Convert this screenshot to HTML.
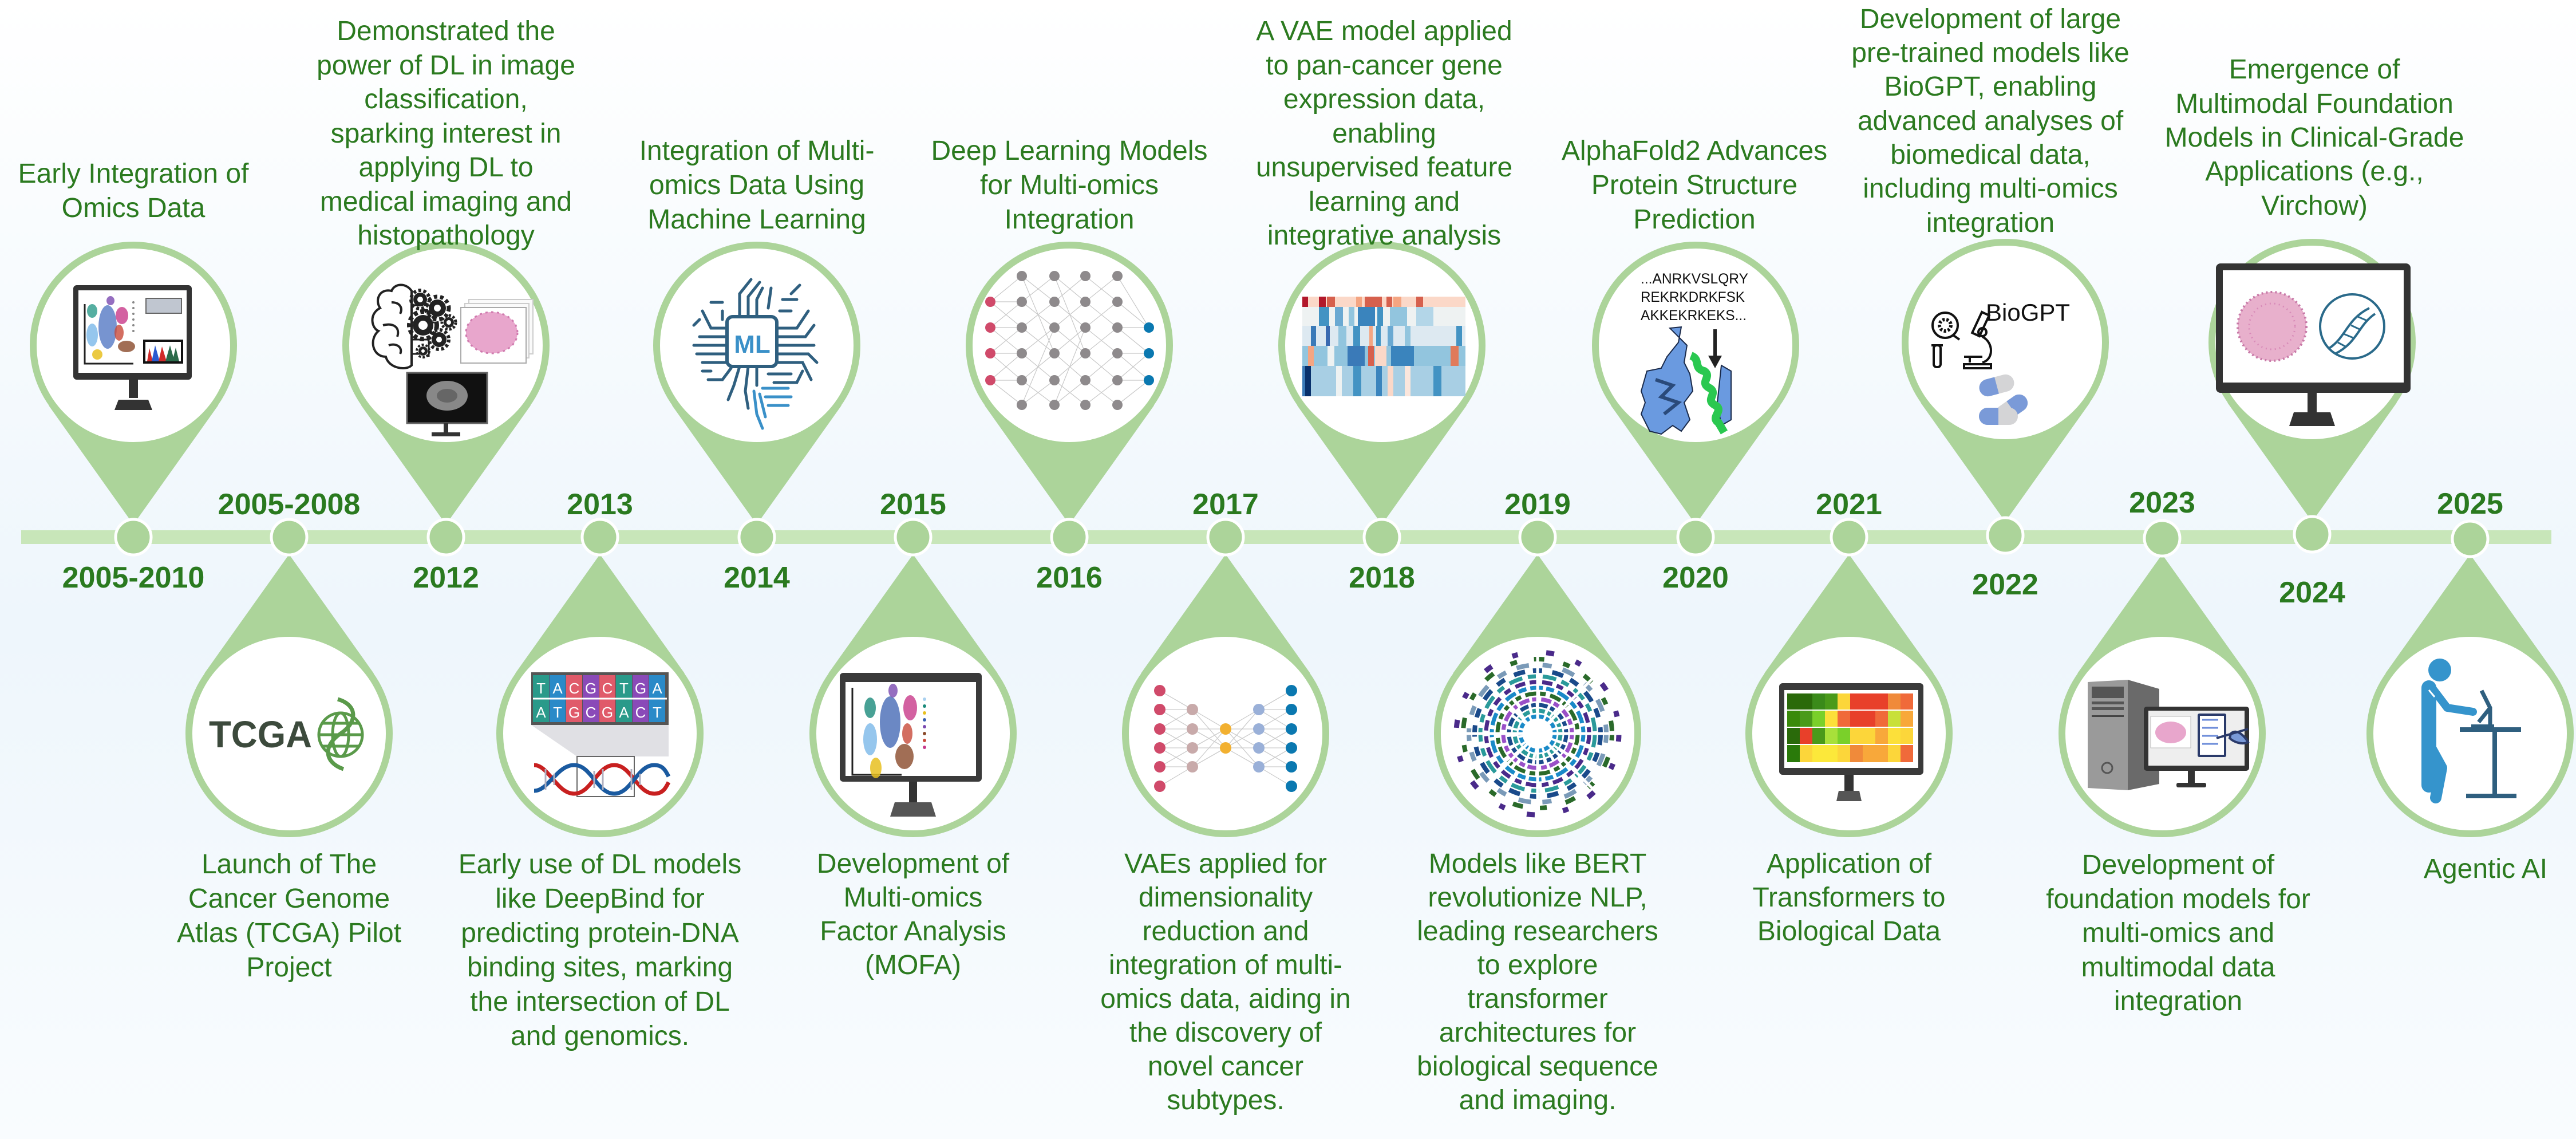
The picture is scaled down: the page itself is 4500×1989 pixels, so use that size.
<!DOCTYPE html>
<html><head><meta charset="utf-8">
<style>
html,body{margin:0;padding:0;}
body{width:4500px;height:1989px;overflow:hidden;}
svg{display:block;font-family:"Liberation Sans",Arial,sans-serif;}
.d{font-size:48px;fill:#2b7a1f;text-anchor:middle;}
.y{font-size:52px;font-weight:bold;fill:#2a7a1f;text-anchor:middle;}
</style></head><body>
<svg width="4500" height="1989" viewBox="0 0 4500 1989" xmlns="http://www.w3.org/2000/svg">
<defs>
<linearGradient id="bg" x1="0" y1="0" x2="0" y2="1">
<stop offset="0" stop-color="#ffffff"/><stop offset="0.55" stop-color="#eef6fc"/><stop offset="1" stop-color="#f9fcfe"/>
</linearGradient>
<g id="pu"><polygon points="0,313 -148,105 148,105" fill="#acd49a"/><circle r="175" fill="#fff" stroke="#acd49a" stroke-width="12"/></g>
<g id="pd"><polygon points="0,-313 -148,-105 148,-105" fill="#acd49a"/><circle r="175" fill="#fff" stroke="#acd49a" stroke-width="12"/></g>
</defs>
<rect width="4500" height="1989" fill="url(#bg)"/>

<rect x="37" y="926" width="4420" height="24" fill="#c8e6b9"/>

<use href="#pu" x="233" y="603"/>
<use href="#pu" x="779" y="603"/>
<use href="#pu" x="1322" y="603"/>
<use href="#pu" x="1868" y="603"/>
<use href="#pu" x="2414" y="603"/>
<use href="#pu" x="2962" y="603"/>
<use href="#pu" x="3503" y="598"/>
<use href="#pu" x="4039" y="598"/>
<use href="#pd" x="505" y="1281"/>
<use href="#pd" x="1048" y="1281"/>
<use href="#pd" x="1595" y="1281"/>
<use href="#pd" x="2141" y="1281"/>
<use href="#pd" x="2686" y="1281"/>
<use href="#pd" x="3230" y="1281"/>
<use href="#pd" x="3777" y="1281"/>
<use href="#pd" x="4315" y="1281"/>

<g fill="#acd49a" stroke="#ffffff" stroke-width="5">
<circle cx="233" cy="938" r="31"/><circle cx="505" cy="938" r="31"/><circle cx="779" cy="938" r="31"/><circle cx="1048" cy="938" r="31"/>
<circle cx="1322" cy="938" r="31"/><circle cx="1595" cy="938" r="31"/><circle cx="1868" cy="938" r="31"/><circle cx="2141" cy="938" r="31"/>
<circle cx="2414" cy="938" r="31"/><circle cx="2686" cy="938" r="31"/><circle cx="2962" cy="938" r="31"/><circle cx="3230" cy="938" r="31"/>
<circle cx="3503" cy="935" r="31"/><circle cx="3777" cy="940" r="31"/><circle cx="4039" cy="933" r="31"/><circle cx="4315" cy="941" r="31"/>
</g>

<text class="y" x="233" y="1026">2005-2010</text>
<text class="y" x="505" y="898">2005-2008</text>
<text class="y" x="779" y="1026">2012</text>
<text class="y" x="1048" y="898">2013</text>
<text class="y" x="1322" y="1026">2014</text>
<text class="y" x="1595" y="898">2015</text>
<text class="y" x="1868" y="1026">2016</text>
<text class="y" x="2141" y="898">2017</text>
<text class="y" x="2414" y="1026">2018</text>
<text class="y" x="2686" y="898">2019</text>
<text class="y" x="2962" y="1026">2020</text>
<text class="y" x="3230" y="898">2021</text>
<text class="y" x="3503" y="1038">2022</text>
<text class="y" x="3777" y="895">2023</text>
<text class="y" x="4039" y="1052">2024</text>
<text class="y" x="4315" y="897">2025</text>

<text class="d"><tspan x="233" y="319">Early Integration of</tspan><tspan x="233" y="379">Omics Data</tspan></text>
<text class="d"><tspan x="779" y="70">Demonstrated the</tspan><tspan x="779" y="130">power of DL in image</tspan><tspan x="779" y="189">classification,</tspan><tspan x="779" y="249">sparking interest in</tspan><tspan x="779" y="308">applying DL to</tspan><tspan x="779" y="368">medical imaging and</tspan><tspan x="779" y="427">histopathology</tspan></text>
<text class="d"><tspan x="1322" y="279">Integration of Multi-</tspan><tspan x="1322" y="339">omics Data Using</tspan><tspan x="1322" y="399">Machine Learning</tspan></text>
<text class="d"><tspan x="1868" y="279">Deep Learning Models</tspan><tspan x="1868" y="339">for Multi-omics</tspan><tspan x="1868" y="399">Integration</tspan></text>
<text class="d"><tspan x="2418" y="70">A VAE model applied</tspan><tspan x="2418" y="130">to pan-cancer gene</tspan><tspan x="2418" y="189">expression data,</tspan><tspan x="2418" y="249">enabling</tspan><tspan x="2418" y="308">unsupervised feature</tspan><tspan x="2418" y="368">learning and</tspan><tspan x="2418" y="427">integrative analysis</tspan></text>
<text class="d"><tspan x="2960" y="279">AlphaFold2 Advances</tspan><tspan x="2960" y="339">Protein Structure</tspan><tspan x="2960" y="399">Prediction</tspan></text>
<text class="d"><tspan x="3477" y="49">Development of large</tspan><tspan x="3477" y="108">pre-trained models like</tspan><tspan x="3477" y="167">BioGPT, enabling</tspan><tspan x="3477" y="227">advanced analyses of</tspan><tspan x="3477" y="286">biomedical data,</tspan><tspan x="3477" y="345">including multi-omics</tspan><tspan x="3477" y="405">integration</tspan></text>
<text class="d"><tspan x="4043" y="137">Emergence of</tspan><tspan x="4043" y="197">Multimodal Foundation</tspan><tspan x="4043" y="256">Models in Clinical-Grade</tspan><tspan x="4043" y="315">Applications (e.g.,</tspan><tspan x="4043" y="375">Virchow)</tspan></text>

<text class="d"><tspan x="505" y="1525">Launch of The</tspan><tspan x="505" y="1585">Cancer Genome</tspan><tspan x="505" y="1645">Atlas (TCGA) Pilot</tspan><tspan x="505" y="1705">Project</tspan></text>
<text class="d"><tspan x="1048" y="1525">Early use of DL models</tspan><tspan x="1048" y="1585">like DeepBind for</tspan><tspan x="1048" y="1645">predicting protein-DNA</tspan><tspan x="1048" y="1705">binding sites, marking</tspan><tspan x="1048" y="1765">the intersection of DL</tspan><tspan x="1048" y="1825">and genomics.</tspan></text>
<text class="d"><tspan x="1595" y="1524">Development of</tspan><tspan x="1595" y="1583">Multi-omics</tspan><tspan x="1595" y="1642">Factor Analysis</tspan><tspan x="1595" y="1701">(MOFA)</tspan></text>
<text class="d"><tspan x="2141" y="1524">VAEs applied for</tspan><tspan x="2141" y="1583">dimensionality</tspan><tspan x="2141" y="1642">reduction and</tspan><tspan x="2141" y="1701">integration of multi-</tspan><tspan x="2141" y="1760">omics data, aiding in</tspan><tspan x="2141" y="1819">the discovery of</tspan><tspan x="2141" y="1878">novel cancer</tspan><tspan x="2141" y="1937">subtypes.</tspan></text>
<text class="d"><tspan x="2686" y="1524">Models like BERT</tspan><tspan x="2686" y="1583">revolutionize NLP,</tspan><tspan x="2686" y="1642">leading researchers</tspan><tspan x="2686" y="1701">to explore</tspan><tspan x="2686" y="1760">transformer</tspan><tspan x="2686" y="1819">architectures for</tspan><tspan x="2686" y="1878">biological sequence</tspan><tspan x="2686" y="1937">and imaging.</tspan></text>
<text class="d"><tspan x="3230" y="1524">Application of</tspan><tspan x="3230" y="1583">Transformers to</tspan><tspan x="3230" y="1642">Biological Data</tspan></text>
<text class="d"><tspan x="3805" y="1526">Development of</tspan><tspan x="3805" y="1586">foundation models for</tspan><tspan x="3805" y="1645">multi-omics and</tspan><tspan x="3805" y="1705">multimodal data</tspan><tspan x="3805" y="1764">integration</tspan></text>
<text class="d"><tspan x="4342" y="1533">Agentic AI</tspan></text>

<g transform="translate(233,603)">
<rect x="-105" y="-105" width="207" height="165" rx="6" fill="#333"/>
<rect x="-96" y="-96" width="189" height="144" fill="#fff"/>
<polyline points="-85,-72 -85,32 0,32" fill="none" stroke="#222" stroke-width="3"/>
<ellipse cx="-72" cy="-60" rx="9" ry="12" fill="#2a9a8a" opacity=".8"/>
<ellipse cx="-45" cy="-32" rx="16" ry="38" fill="#4a70c0" opacity=".75"/>
<ellipse cx="-72" cy="-18" rx="10" ry="20" fill="#7ab8e8" opacity=".8"/>
<ellipse cx="-20" cy="-52" rx="11" ry="15" fill="#c83a8a" opacity=".8"/>
<ellipse cx="-25" cy="-22" rx="8" ry="14" fill="#c84a3a" opacity=".8"/>
<ellipse cx="-12" cy="2" rx="15" ry="10" fill="#8a4a2a" opacity=".8"/>
<ellipse cx="-63" cy="16" rx="9" ry="9" fill="#e8c020" opacity=".85"/>
<ellipse cx="-40" cy="-78" rx="7" ry="8" fill="#7a4ab0" opacity=".8"/>
<g fill="#888"><circle cx="0" cy="-75" r="2"/><circle cx="0" cy="-65" r="2"/><circle cx="0" cy="-55" r="2"/><circle cx="0" cy="-45" r="2"/><circle cx="0" cy="-35" r="2"/><circle cx="0" cy="-25" r="2"/></g>
<rect x="22" y="-82" width="62" height="26" fill="#c0c6d0" stroke="#666" stroke-width="2"/>
<rect x="17" y="-10" width="70" height="42" fill="#111"/>
<rect x="21" y="-6" width="62" height="34" fill="#fff"/>
<path d="M24,28 L28,5 L34,28 Z" fill="#d02a2a"/><path d="M32,28 L38,0 L46,28 Z" fill="#2a5ad0"/><path d="M44,28 L50,2 L58,28 Z" fill="#d02a2a"/><path d="M56,28 L64,0 L72,28 Z" fill="#2a6a4a"/><path d="M68,28 L74,4 L80,28 Z" fill="#2a6a4a"/>
<rect x="-8" y="60" width="16" height="32" fill="#333"/>
<polygon points="-33,113 33,113 26,95 -26,95" fill="#333"/>
</g>

<g transform="translate(779,603)">
<path d="M-95,-95 C-115,-100 -125,-80 -115,-65 C-135,-55 -130,-30 -118,-25 C-135,-10 -128,20 -105,20 C-100,40 -70,45 -60,35 L-60,-95 C-70,-110 -90,-108 -95,-95 Z" fill="none" stroke="#222" stroke-width="4"/>
<path d="M-95,-75 C-80,-75 -75,-65 -80,-55 M-110,-35 C-90,-40 -80,-30 -85,-15 M-100,0 C-85,-5 -75,5 -80,15" fill="none" stroke="#222" stroke-width="4"/>
<g stroke="#222" stroke-width="3" fill="none"><path d="M-60,-70 L-40,-70 M-60,-40 L-20,-40 M-60,-10 L-30,-10 L-30,20 M-60,15 L-45,15"/></g>
<g fill="#222">
<circle cx="-45" cy="-80" r="12"/><circle cx="-45" cy="-80" r="16" fill="none" stroke="#222" stroke-width="6" stroke-dasharray="5 4"/><circle cx="-45" cy="-80" r="5" fill="#fff"/>
<circle cx="-15" cy="-65" r="15"/><circle cx="-15" cy="-65" r="20" fill="none" stroke="#222" stroke-width="7" stroke-dasharray="6 5"/><circle cx="-15" cy="-65" r="6" fill="#fff"/>
<circle cx="-40" cy="-35" r="18"/><circle cx="-40" cy="-35" r="24" fill="none" stroke="#222" stroke-width="8" stroke-dasharray="7 5"/><circle cx="-40" cy="-35" r="8" fill="#fff"/>
<circle cx="5" cy="-40" r="9"/><circle cx="5" cy="-40" r="12" fill="none" stroke="#222" stroke-width="5" stroke-dasharray="4 3"/><circle cx="5" cy="-40" r="4" fill="#fff"/>
<circle cx="-12" cy="-10" r="13"/><circle cx="-12" cy="-10" r="17" fill="none" stroke="#222" stroke-width="6" stroke-dasharray="5 4"/><circle cx="-12" cy="-10" r="5" fill="#fff"/>
<circle cx="-40" cy="10" r="8"/><circle cx="-40" cy="10" r="11" fill="none" stroke="#222" stroke-width="4" stroke-dasharray="4 3"/><circle cx="-40" cy="10" r="3" fill="#fff"/>
</g>
<rect x="40" y="-80" width="112" height="95" fill="#fafafa" stroke="#ccc" stroke-width="2"/>
<rect x="33" y="-73" width="112" height="95" fill="#fafafa" stroke="#ccc" stroke-width="2"/>
<rect x="26" y="-66" width="114" height="97" fill="#fff" stroke="#aaa" stroke-width="2"/>
<ellipse cx="80" cy="-22" rx="45" ry="36" fill="#e8a6cc"/>
<ellipse cx="80" cy="-22" rx="45" ry="36" fill="none" stroke="#d07aae" stroke-width="3" stroke-dasharray="4 6"/>
<rect x="-68" y="48" width="140" height="88" fill="#111" stroke="#666" stroke-width="3"/>
<ellipse cx="2" cy="88" rx="36" ry="26" fill="#888"/>
<ellipse cx="2" cy="88" rx="18" ry="12" fill="#666"/>
<rect x="-4" y="136" width="8" height="18" fill="#333"/>
<rect x="-25" y="152" width="50" height="7" fill="#333"/>
</g>

<g transform="translate(1322,603)">
<g stroke="#2f5f7f" stroke-width="5" fill="none" stroke-linecap="round">
<path d="M-30,-50 L-30,-90 L-10,-115 M-15,-50 L-15,-85 L5,-110 M0,-50 L0,-80 L10,-100"/>
<path d="M-52,-30 L-80,-30 L-95,-60 M-52,-15 L-100,-15 M-52,0 L-110,0 M-52,15 L-105,15 M-52,30 L-95,30"/>
<path d="M-60,-60 L-60,-45 M-80,-75 L-60,-75 M-100,-45 L-110,-35 M-95,45 L-80,45 M-85,60 L-60,60 L-45,40"/>
<path d="M35,-30 L70,-30 L90,-60 M35,-15 L85,-15 L100,-35 M35,0 L100,0 M35,15 L90,15 L105,30 M35,30 L80,30 L95,60"/>
<path d="M40,-60 L60,-60 M45,-80 L70,-80 M20,-65 L25,-100 M60,-90 L75,-105"/>
<path d="M-30,37 L-40,70 L-50,95 M-15,37 L-20,80 L-15,110 M0,37 L0,70"/>
<path d="M20,50 L60,50 M30,65 L70,65 L80,45"/>
</g>
<g stroke="#3a90c8" stroke-width="5" fill="none" stroke-linecap="round">
<path d="M10,75 L55,75 M15,90 L60,90 M20,105 L55,105 M-5,80 L0,120 L10,145 M5,85 L15,125"/>
</g>
<rect x="-52" y="-50" width="87" height="87" rx="10" fill="#fff" stroke="#2f5f7f" stroke-width="6"/>
<text x="-8" y="13" font-size="44" font-weight="bold" fill="#3a90c8" text-anchor="middle">ML</text>
</g>

<g transform="translate(1868,603)">
<g stroke="#c8c8c8" stroke-width="1.2">
<path d="M-138,-76 L-83,-121 M-138,-76 L-83,-31 M-138,-31 L-83,-76 M-138,-31 L-83,14 M-138,14 L-83,-31 M-138,14 L-83,61 M-138,61 L-83,14 M-138,61 L-83,104 M-138,-76 L-83,-76 M-138,-31 L-83,-31 M-138,14 L-83,14 M-138,61 L-83,61"/>
<path d="M-83,-121 L-26,-76 M-83,-76 L-26,-121 M-83,-76 L-26,-31 M-83,-31 L-26,-76 M-83,-31 L-26,14 M-83,14 L-26,-31 M-83,14 L-26,61 M-83,61 L-26,14 M-83,61 L-26,104 M-83,104 L-26,61 M-83,-121 L-26,14 M-83,104 L-26,-31"/>
<path d="M-26,-121 L28,-76 M-26,-76 L28,-121 M-26,-76 L28,-31 M-26,-31 L28,-76 M-26,-31 L28,14 M-26,14 L28,-31 M-26,14 L28,61 M-26,61 L28,14 M-26,61 L28,104 M-26,104 L28,61 M-26,-121 L28,14 M-26,104 L28,-31"/>
<path d="M28,-121 L84,-76 M28,-76 L84,-121 M28,-76 L84,-31 M28,-31 L84,-76 M28,-31 L84,14 M28,14 L84,-31 M28,14 L84,61 M28,61 L84,14 M28,61 L84,104 M28,104 L84,61"/>
<path d="M84,-76 L139,-31 M84,-31 L139,14 M84,14 L139,61 M84,61 L139,14 M84,-121 L139,-31 M84,104 L139,61 M84,-31 L139,-31 M84,14 L139,14 M84,61 L139,61"/>
</g>
<g fill="#8e8a8c">
<circle cx="-83" cy="-121" r="9"/><circle cx="-26" cy="-121" r="9"/><circle cx="28" cy="-121" r="9"/><circle cx="84" cy="-121" r="9"/>
<circle cx="-83" cy="-76" r="9"/><circle cx="-26" cy="-76" r="9"/><circle cx="28" cy="-76" r="9"/><circle cx="84" cy="-76" r="9"/>
<circle cx="-83" cy="-31" r="9"/><circle cx="-26" cy="-31" r="9"/><circle cx="28" cy="-31" r="9"/><circle cx="84" cy="-31" r="9"/>
<circle cx="-83" cy="14" r="9"/><circle cx="-26" cy="14" r="9"/><circle cx="28" cy="14" r="9"/><circle cx="84" cy="14" r="9"/>
<circle cx="-83" cy="61" r="9"/><circle cx="-26" cy="61" r="9"/><circle cx="28" cy="61" r="9"/><circle cx="84" cy="61" r="9"/>
<circle cx="-83" cy="104" r="9"/><circle cx="-26" cy="104" r="9"/><circle cx="28" cy="104" r="9"/><circle cx="84" cy="104" r="9"/>
</g>
<g fill="#d04a6a"><circle cx="-138" cy="-76" r="9"/><circle cx="-138" cy="-31" r="9"/><circle cx="-138" cy="14" r="9"/><circle cx="-138" cy="61" r="9"/></g>
<g fill="#0a78b0"><circle cx="139" cy="-31" r="9"/><circle cx="139" cy="14" r="9"/><circle cx="139" cy="61" r="9"/></g>
</g>

<g transform="translate(2414,603)">
<rect x="-139" y="-85" width="285" height="18" fill="#fbd8c8"/>
<rect x="-139" y="-85" width="10" height="18" fill="#b2182b"/><rect x="-110" y="-85" width="12" height="18" fill="#b2182b"/><rect x="-96" y="-85" width="14" height="18" fill="#d6604d"/><rect x="-45" y="-85" width="10" height="18" fill="#f4a582"/><rect x="-30" y="-85" width="30" height="18" fill="#d6604d"/><rect x="8" y="-85" width="10" height="18" fill="#d6604d"/><rect x="20" y="-85" width="14" height="18" fill="#f4a582"/><rect x="60" y="-85" width="12" height="18" fill="#d6604d"/>
<rect x="-139" y="-67" width="285" height="33" fill="#eef2f2"/>
<rect x="-110" y="-67" width="18" height="33" fill="#4393c3"/><rect x="-82" y="-67" width="14" height="33" fill="#6aa9d2"/><rect x="-58" y="-67" width="10" height="33" fill="#92c5de"/><rect x="-42" y="-67" width="30" height="33" fill="#3a84bd"/><rect x="-8" y="-67" width="10" height="33" fill="#4393c3"/><rect x="14" y="-67" width="30" height="33" fill="#92c5de"/><rect x="60" y="-67" width="30" height="33" fill="#b3d6e8"/>
<rect x="-139" y="-34" width="285" height="35" fill="#dde9f1"/>
<rect x="-124" y="-34" width="9" height="35" fill="#3a7ab8"/><rect x="-98" y="-34" width="7" height="35" fill="#3a6ab0"/><rect x="-76" y="-34" width="14" height="35" fill="#92c5de"/><rect x="-50" y="-34" width="12" height="35" fill="#4393c3"/><rect x="-22" y="-34" width="6" height="35" fill="#f4a582"/><rect x="-10" y="-34" width="8" height="35" fill="#4393c3"/><rect x="10" y="-34" width="10" height="35" fill="#6aa9d2"/><rect x="40" y="-34" width="10" height="35" fill="#92c5de"/><rect x="130" y="-34" width="10" height="35" fill="#4393c3"/>
<rect x="-139" y="1" width="285" height="35" fill="#92c5de"/>
<rect x="-129" y="1" width="10" height="35" fill="#f4a582"/><rect x="-95" y="1" width="12" height="35" fill="#eef2f2"/><rect x="-60" y="1" width="30" height="35" fill="#3a7ab8"/><rect x="-24" y="1" width="10" height="35" fill="#d6604d"/><rect x="-12" y="1" width="20" height="35" fill="#fbd8c8"/><rect x="16" y="1" width="40" height="35" fill="#3a84bd"/><rect x="120" y="1" width="14" height="35" fill="#e07a5a"/>
<rect x="-139" y="36" width="285" height="53" fill="#a8cfe4"/>
<rect x="-134" y="36" width="10" height="53" fill="#08306b"/><rect x="-139" y="36" width="5" height="53" fill="#3a7ab8"/><rect x="-80" y="36" width="10" height="53" fill="#eef2f2"/><rect x="-50" y="36" width="14" height="53" fill="#4393c3"/><rect x="-10" y="36" width="10" height="53" fill="#3a84bd"/><rect x="10" y="36" width="10" height="53" fill="#fbd8c8"/><rect x="40" y="36" width="10" height="53" fill="#fbe6dc"/><rect x="90" y="36" width="14" height="53" fill="#4393c3"/>
</g>

<g transform="translate(2962,603)">
<g font-size="25" fill="#111">
<text x="-96" y="-108" textLength="188" lengthAdjust="spacingAndGlyphs">...ANRKVSLQRY</text>
<text x="-96" y="-76" textLength="182" lengthAdjust="spacingAndGlyphs">REKRKDRKFSK</text>
<text x="-96" y="-44" textLength="185" lengthAdjust="spacingAndGlyphs">AKKEKRKEKS...</text>
</g>
<path d="M-45,-30 L-25,-32 L-30,-5 L-50,20 L-60,40 L-85,45 L-95,80 L-88,100 L-95,120 L-80,150 L-60,155 L-40,140 L-25,150 L-10,130 L-20,100 L-5,80 L-10,50 L-20,30 L-15,0 Z" fill="#6a9ae0" stroke="#1a2a4a" stroke-width="2"/>
<path d="M-70,60 L-40,70 L-60,90 L-30,100 L-55,120" fill="none" stroke="#2a4a7a" stroke-width="6"/>
<path d="M45,35 L62,45 L62,130 L45,140 L38,100 Z" fill="#6a9ae0" stroke="#1a2a4a" stroke-width="2"/>
<path d="M-8,18 C10,25 -5,40 15,45 C30,55 5,65 25,75 C40,85 15,95 35,105 C50,115 25,125 40,135 L50,152" fill="none" stroke="#2ac850" stroke-width="14"/>
<rect x="31" y="-28" width="6" height="50" fill="#222"/>
<polygon points="22,18 46,18 34,40" fill="#222"/>
</g>

<g transform="translate(3503,598)">
<g fill="none" stroke="#111" stroke-width="4">
<circle cx="-105" cy="-30" r="22"/>
<circle cx="-105" cy="-30" r="10" stroke-dasharray="4 3" stroke-width="6"/>
<path d="M-90,-12 L-80,-5"/>
<rect x="-50" y="-52" width="14" height="40" transform="rotate(25 -43 -32)"/>
<circle cx="-40" cy="-18" r="7"/>
<path d="M-40,-10 C-20,0 -20,30 -40,35 M-72,25 L-40,25 M-62,25 L-62,35 M-72,38 L-25,38 L-25,45 L-72,45 Z"/>
<rect x="-125" y="5" width="12" height="38" rx="5"/>
<path d="M-129,5 L-109,5"/>
</g>
<text x="-34" y="-38" font-size="42" fill="#111">BioGPT</text>
<g>
<rect x="-46" y="60" width="62" height="30" rx="15" fill="#d4d4d6" transform="rotate(-15 -15 75)"/>
<path d="M-31,60 L-15,60 L-15,90 L-31,90 A15,15 0 0 1 -31,60 Z" fill="#7a9ad8" transform="rotate(-15 -15 75)"/>
<rect x="-20" y="100" width="62" height="30" rx="15" fill="#d4d4d6" transform="rotate(-35 11 115)"/>
<path d="M27,100 L11,100 L11,130 L27,130 A15,15 0 0 0 27,100 Z" fill="#7a9ad8" transform="rotate(-35 11 115)"/>
<rect x="-46" y="114" width="68" height="30" rx="15" fill="#d4d4d6"/>
<path d="M-31,114 L-12,114 L-12,144 L-31,144 A15,15 0 0 1 -31,114 Z" fill="#7a9ad8"/>
</g>
</g>

<g transform="translate(4039,598)">
<rect x="-168" y="-138" width="340" height="226" rx="8" fill="#333"/>
<rect x="-156" y="-126" width="316" height="196" fill="#fff"/>
<circle cx="-70" cy="-28" r="60" fill="#e8b0cc"/>
<circle cx="-70" cy="-28" r="60" fill="none" stroke="#c87aa8" stroke-width="4" stroke-dasharray="3 5"/>
<circle cx="-70" cy="-28" r="40" fill="none" stroke="#d88ab8" stroke-width="3" stroke-dasharray="2 6"/>
<circle cx="70" cy="-28" r="56" fill="none" stroke="#2a6a8a" stroke-width="4"/>
<path d="M30,10 C60,-10 60,-40 100,-60 M40,20 C80,0 80,-30 110,-50" fill="none" stroke="#2a6a8a" stroke-width="4"/>
<path d="M45,0 L60,8 M55,-15 L72,-8 M68,-30 L85,-22 M80,-45 L96,-38" stroke="#2a6a8a" stroke-width="3"/>
<rect x="-8" y="88" width="16" height="34" fill="#333"/>
<polygon points="-40,146 40,146 32,122 -32,122" fill="#333"/>
</g>

<g transform="translate(505,1281)">
<text x="-140" y="24" font-size="66" font-weight="bold" fill="#3c4a3c" textLength="180" lengthAdjust="spacingAndGlyphs">TCGA</text>
<g fill="none" stroke="#5a9a4a" stroke-width="5">
<circle cx="90" cy="2" r="38"/>
<ellipse cx="90" cy="2" rx="14" ry="38"/>
<path d="M52,2 L128,2 M57,-18 L123,-18 M57,22 L123,22"/>
<path d="M85,-60 C120,-50 120,-20 90,0 C60,20 60,50 95,62" stroke-width="7"/>
</g>
</g>

<g transform="translate(1048,1281)">
<rect x="-120" y="-107" width="240" height="92" fill="#555"/>
<g font-size="26" fill="#fff" text-anchor="middle">
<rect x="-117" y="-102" width="28" height="82" fill="#2a9a8a"/><rect x="-88" y="-102" width="28" height="82" fill="#2a8ac8"/><rect x="-59" y="-102" width="28" height="82" fill="#e05a6a"/><rect x="-30" y="-102" width="28" height="82" fill="#8a4ab8"/><rect x="-1" y="-102" width="28" height="82" fill="#e05a6a"/><rect x="28" y="-102" width="28" height="82" fill="#2a9a8a"/><rect x="57" y="-102" width="28" height="82" fill="#8a4ab8"/><rect x="86" y="-102" width="28" height="82" fill="#2a8ac8"/>
<path d="M-117,-61 L117,-61" stroke="#fff" stroke-width="3"/>
<text x="-103" y="-70">T</text><text x="-74" y="-70">A</text><text x="-45" y="-70">C</text><text x="-16" y="-70">G</text><text x="13" y="-70">C</text><text x="42" y="-70">T</text><text x="71" y="-70">G</text><text x="100" y="-70">A</text>
<text x="-103" y="-28">A</text><text x="-74" y="-28">T</text><text x="-45" y="-28">G</text><text x="-16" y="-28">C</text><text x="13" y="-28">G</text><text x="42" y="-28">A</text><text x="71" y="-28">C</text><text x="100" y="-28">T</text>
</g>
<polygon points="-120,-15 120,-15 120,40 -40,40" fill="#e0e0e4"/>
<rect x="-40" y="40" width="100" height="70" fill="none" stroke="#666" stroke-width="2"/>
<g fill="none" stroke-width="7">
<path d="M-115,55 C-90,55 -75,105 -45,105 C-15,105 -5,55 25,55 C55,55 65,105 95,105 C110,105 115,95 120,85" stroke="#c82020"/>
<path d="M-115,100 C-90,100 -75,55 -45,55 C-15,55 -5,105 25,105 C55,105 65,55 95,55 C110,55 115,65 120,75" stroke="#1a5aa0"/>
</g>
<g stroke="#b0b0c0" stroke-width="3"><path d="M-95,62 L-95,98 M-80,70 L-80,90 M-10,65 L-10,95 M5,62 L5,98 M55,62 L55,98 M70,70 L70,90"/></g>
</g>

<g transform="translate(1595,1281)">
<rect x="-128" y="-106" width="248" height="190" rx="6" fill="#3a3a3a"/>
<rect x="-118" y="-90" width="228" height="164" fill="#fff"/>
<path d="M-106,-80 L-106,72 L-20,72" fill="none" stroke="#222" stroke-width="3"/>
<ellipse cx="-75" cy="-45" rx="10" ry="18" fill="#1a8a7a" opacity=".8"/>
<ellipse cx="-40" cy="-20" rx="18" ry="45" fill="#3a60b0" opacity=".75"/>
<ellipse cx="-75" cy="10" rx="12" ry="28" fill="#7ab8e8" opacity=".8"/>
<ellipse cx="-35" cy="-75" rx="8" ry="12" fill="#7a4ab0" opacity=".8"/>
<ellipse cx="-5" cy="-45" rx="12" ry="22" fill="#c83a8a" opacity=".8"/>
<ellipse cx="-10" cy="0" rx="9" ry="18" fill="#c84a3a" opacity=".8"/>
<ellipse cx="-15" cy="40" rx="16" ry="22" fill="#8a4a2a" opacity=".8"/>
<ellipse cx="-65" cy="60" rx="10" ry="18" fill="#e8c020" opacity=".85"/>
<g><circle cx="20" cy="-60" r="3" fill="#a8d0f0"/><circle cx="20" cy="-48" r="3" fill="#1a8a7a"/><circle cx="20" cy="-36" r="3" fill="#e8c020"/><circle cx="20" cy="-24" r="3" fill="#3a60b0"/><circle cx="20" cy="-12" r="3" fill="#7a4ab0"/><circle cx="20" cy="0" r="3" fill="#8a4a2a"/><circle cx="20" cy="12" r="3" fill="#c84a3a"/><circle cx="20" cy="24" r="3" fill="#c83a8a"/></g>
<rect x="-7" y="84" width="14" height="40" fill="#333"/>
<polygon points="-40,145 40,145 32,120 -32,120" fill="#555"/>
</g>

<g transform="translate(2141,1281)">
<g stroke="#ccc" stroke-width="1.3">
<path d="M-115,-75 L-58,-42 M-115,-42 L-58,-42 M-115,-42 L-58,-8 M-115,-8 L-58,-42 M-115,-8 L-58,25 M-115,25 L-58,-8 M-115,25 L-58,58 M-115,58 L-58,25 M-115,58 L-58,58 M-115,92 L-58,58 M-115,-8 L-58,-8 M-115,25 L-58,25"/>
<path d="M-58,-42 L0,-8 M-58,-8 L0,-8 M-58,-8 L0,25 M-58,25 L0,-8 M-58,25 L0,25 M-58,58 L0,25 M-58,-42 L0,25 M-58,58 L0,-8"/>
<path d="M0,-8 L58,-42 M0,-8 L58,-8 M0,-8 L58,25 M0,25 L58,-8 M0,25 L58,25 M0,25 L58,58 M0,-8 L58,58 M0,25 L58,-42"/>
<path d="M58,-42 L115,-75 M58,-42 L115,-42 M58,-42 L115,-8 M58,-8 L115,-42 M58,-8 L115,25 M58,25 L115,-8 M58,25 L115,58 M58,58 L115,25 M58,58 L115,92 M58,58 L115,58 M58,-8 L115,-8 M58,25 L115,25"/>
</g>
<g fill="#d04a6a"><circle cx="-115" cy="-75" r="10"/><circle cx="-115" cy="-42" r="10"/><circle cx="-115" cy="-8" r="10"/><circle cx="-115" cy="25" r="10"/><circle cx="-115" cy="58" r="10"/><circle cx="-115" cy="92" r="10"/></g>
<g fill="#c8aaaa"><circle cx="-58" cy="-42" r="10"/><circle cx="-58" cy="-8" r="10"/><circle cx="-58" cy="25" r="10"/><circle cx="-58" cy="58" r="10"/></g>
<g fill="#f2b030"><circle cx="0" cy="-8" r="10"/><circle cx="0" cy="25" r="10"/></g>
<g fill="#9ab0d8"><circle cx="58" cy="-42" r="10"/><circle cx="58" cy="-8" r="10"/><circle cx="58" cy="25" r="10"/><circle cx="58" cy="58" r="10"/></g>
<g fill="#0a78b0"><circle cx="115" cy="-75" r="10"/><circle cx="115" cy="-42" r="10"/><circle cx="115" cy="-8" r="10"/><circle cx="115" cy="25" r="10"/><circle cx="115" cy="58" r="10"/><circle cx="115" cy="92" r="10"/></g>
</g>

<g transform="translate(2686,1281)" fill="none">
<circle r="30" stroke="#1a8ac8" stroke-width="7" stroke-dasharray="9 4"/>
<circle r="40" stroke="#2a9a9a" stroke-width="7" stroke-dasharray="12 5 6 4"/>
<circle r="50" stroke="#1a4a8a" stroke-width="7" stroke-dasharray="15 5 8 6"/>
<circle r="60" stroke="#9a50c8" stroke-width="7" stroke-dasharray="10 6 18 5"/>
<circle r="70" stroke="#2a6a2a" stroke-width="7" stroke-dasharray="20 6 10 8"/>
<circle r="80" stroke="#1a8ac8" stroke-width="7" stroke-dasharray="14 7 22 6"/>
<circle r="90" stroke="#4a2a8a" stroke-width="7" stroke-dasharray="18 8 12 10"/>
<circle r="100" stroke="#2a9a9a" stroke-width="7" stroke-dasharray="24 10 14 12"/>
<circle r="110" stroke="#1a4a8a" stroke-width="8" stroke-dasharray="20 14 16 18"/>
<circle r="120" stroke="#7a9ab8" stroke-width="8" stroke-dasharray="16 20 22 24"/>
<circle r="130" stroke="#2a6a2a" stroke-width="8" stroke-dasharray="12 30 18 34"/>
<circle r="142" stroke="#4a2a8a" stroke-width="9" stroke-dasharray="14 40 10 50"/>
<path d="M-160,0 L160,0 M0,-160 L0,160 M-110,-110 L110,110 M-110,110 L110,-110" stroke="#fff" stroke-width="5"/>
<circle r="18" fill="#fff" stroke="none"/>
</g>

<g transform="translate(3230,1281)">
<rect x="-122" y="-88" width="252" height="160" rx="6" fill="#3a3a3a"/>
<rect x="-113" y="-76" width="234" height="136" fill="#fff"/>
<rect x="-108" y="-70" width="22" height="28" fill="#2a6a0a"/><rect x="-86" y="-70" width="22" height="28" fill="#2a6a0a"/><rect x="-64" y="-70" width="22" height="28" fill="#3a8a1a"/><rect x="-42" y="-70" width="22" height="28" fill="#4a9a1a"/><rect x="-20" y="-70" width="22" height="28" fill="#fcd63a"/><rect x="2" y="-70" width="22" height="28" fill="#e8402a"/><rect x="24" y="-70" width="22" height="28" fill="#e8402a"/><rect x="46" y="-70" width="22" height="28" fill="#e8402a"/><rect x="68" y="-70" width="22" height="28" fill="#f08a3a"/><rect x="90" y="-70" width="22" height="28" fill="#f06a3a"/>
<rect x="-108" y="-40" width="22" height="28" fill="#3a8a0a"/><rect x="-86" y="-40" width="22" height="28" fill="#4a9a1a"/><rect x="-64" y="-40" width="22" height="28" fill="#7ad02a"/><rect x="-42" y="-40" width="22" height="28" fill="#fce03a"/><rect x="-20" y="-40" width="22" height="28" fill="#f06a3a"/><rect x="2" y="-40" width="22" height="28" fill="#e8402a"/><rect x="24" y="-40" width="22" height="28" fill="#e8402a"/><rect x="46" y="-40" width="22" height="28" fill="#f06a3a"/><rect x="68" y="-40" width="22" height="28" fill="#c8e03a"/><rect x="90" y="-40" width="22" height="28" fill="#f8a83a"/>
<rect x="-108" y="-10" width="22" height="28" fill="#2a6a0a"/><rect x="-86" y="-10" width="22" height="28" fill="#e8402a"/><rect x="-64" y="-10" width="22" height="28" fill="#4a9a1a"/><rect x="-42" y="-10" width="22" height="28" fill="#a8e03a"/><rect x="-20" y="-10" width="22" height="28" fill="#7ad02a"/><rect x="2" y="-10" width="22" height="28" fill="#fcd63a"/><rect x="24" y="-10" width="22" height="28" fill="#fcd63a"/><rect x="46" y="-10" width="22" height="28" fill="#f8a83a"/><rect x="68" y="-10" width="22" height="28" fill="#fce03a"/><rect x="90" y="-10" width="22" height="28" fill="#fcd63a"/>
<rect x="-108" y="20" width="22" height="30" fill="#2a7a0a"/><rect x="-86" y="20" width="22" height="30" fill="#fcd63a"/><rect x="-64" y="20" width="22" height="30" fill="#fce83a"/><rect x="-42" y="20" width="22" height="30" fill="#fce83a"/><rect x="-20" y="20" width="22" height="30" fill="#fcd63a"/><rect x="2" y="20" width="22" height="30" fill="#f08a3a"/><rect x="24" y="20" width="22" height="30" fill="#f8a83a"/><rect x="46" y="20" width="22" height="30" fill="#f8a83a"/><rect x="68" y="20" width="22" height="30" fill="#fcd63a"/><rect x="90" y="20" width="22" height="30" fill="#f06a3a"/>
<rect x="-8" y="72" width="16" height="34" fill="#333"/>
<polygon points="-22,118 22,118 18,100 -18,100" fill="#555"/>
</g>

<g transform="translate(3777,1281)">
<polygon points="-130,-90 -60,-94 -60,99 -130,95" fill="#9a9a9a"/>
<polygon points="-60,-94 -5,-78 -5,88 -60,99" fill="#6a6a6a"/>
<rect x="-123" y="-82" width="56" height="20" fill="#555"/>
<rect x="-123" y="-56" width="56" height="5" fill="#555"/>
<rect x="-123" y="-46" width="56" height="5" fill="#555"/>
<rect x="-123" y="-32" width="56" height="3" fill="#444"/>
<circle cx="-96" cy="60" r="9" fill="none" stroke="#555" stroke-width="3"/>
<rect x="-32" y="-47" width="184" height="112" rx="5" fill="#333"/>
<rect x="-24" y="-40" width="168" height="96" fill="#eee"/>
<rect x="-20" y="-30" width="70" height="55" fill="#fff" stroke="#bbb"/>
<ellipse cx="15" cy="-2" rx="27" ry="19" fill="#e8a6cc"/>
<rect x="62" y="-35" width="50" height="76" rx="3" fill="#2a3a6a"/>
<rect x="66" y="-31" width="42" height="68" fill="#fff"/>
<g stroke="#6a8ad8" stroke-width="3"><path d="M70,-24 L98,-24 M70,-10 L98,-10 M70,4 L98,4 M70,18 L98,18"/></g>
<path d="M95,8 L150,-8 M120,0 C130,-10 145,5 150,15 C140,20 125,15 118,8 Z" stroke="#2a3a6a" stroke-width="4" fill="#7a9ad8"/>
<rect x="45" y="65" width="12" height="22" fill="#333"/>
<rect x="25" y="86" width="52" height="8" rx="3" fill="#333"/>
</g>

<g transform="translate(4315,1281)">
<circle cx="-53" cy="-111" r="20" fill="#3594cc"/>
<path d="M-72,-80 L-72,90" stroke="#3594cc" stroke-width="26" stroke-linecap="round"/>
<path d="M-65,-78 L-40,-45 L5,-38" fill="none" stroke="#3594cc" stroke-width="14" stroke-linecap="round" stroke-linejoin="round"/>
<path d="M-72,20 L-50,60 L-60,112" fill="none" stroke="#3594cc" stroke-width="20" stroke-linecap="round" stroke-linejoin="round"/>
<path d="M-72,-76 L-62,-64" stroke="#fff" stroke-width="3"/>
<rect x="-18" y="-11" width="107" height="8" fill="#2f5f7f"/>
<rect x="39" y="-3" width="8" height="110" fill="#2f5f7f"/>
<rect x="-7" y="105" width="88" height="8" fill="#2f5f7f"/>
<path d="M20,-75 L35,-45 L35,-13 M35,-45 L15,-20" fill="none" stroke="#2f5f7f" stroke-width="7"/>
<rect x="2" y="-16" width="40" height="5" fill="#2f5f7f"/>
</g>
</svg>
</body></html>
